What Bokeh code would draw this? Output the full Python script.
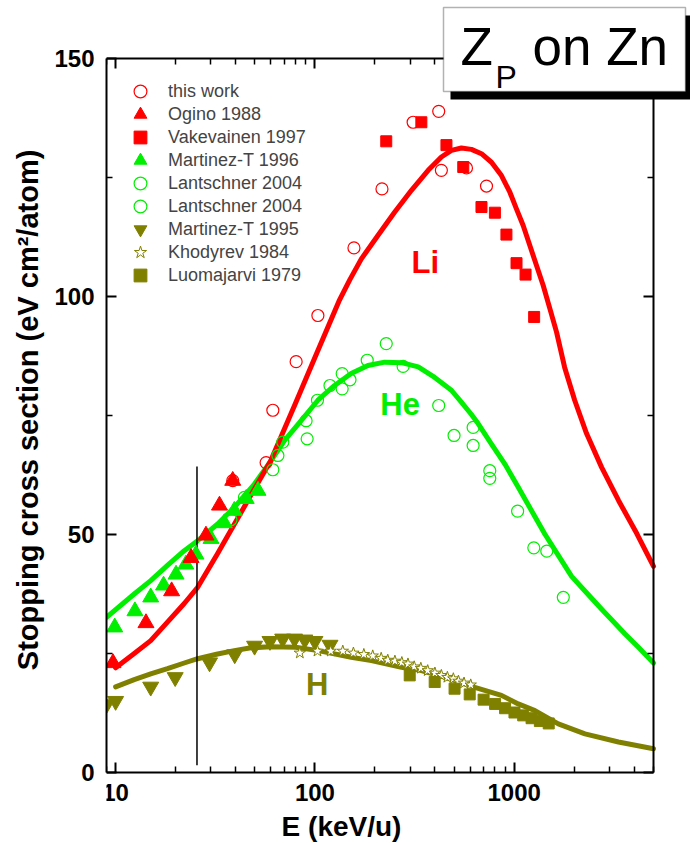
from bokeh.plotting import figure
from bokeh.models import (FixedTicker, LinearAxis, LogAxis, Label, BoxAnnotation, Range1d,
                          Legend, LegendItem, CustomJSTickFormatter, BasicTickFormatter)
from bokeh.embed import file_html
from bokeh.resources import INLINE

FONT = "Liberation Sans"
RED = "#ff0000"
GREEN = "#00ee00"
OLIVE = "#808000"

# ---- model curves (E in keV/u, S in eV cm^2/atom) ----
li_curve_e = [10, 12.4, 15, 18.2, 22.1, 25.8, 32.5, 40, 46, 60, 80, 100, 132, 150, 171, 207,
              251, 305, 370, 431, 484, 543, 610, 685, 769, 863, 951, 1026, 1109, 1198, 1294,
              1398, 1511, 1631, 1791, 2011, 2307, 2746, 3342, 4121, 5000]
li_curve_s = [22.0, 25.0, 27.7, 31.6, 35.5, 38.9, 46.0, 52.6, 57.1, 65.5, 77.6, 87.2, 99.0,
              103.6, 107.9, 112.8, 117.7, 122.3, 126.5, 129.3, 130.7, 131.2, 130.9, 130.0,
              128.2, 125.4, 121.9, 118.4, 114.9, 110.7, 106.5, 102.3, 97.4, 92.5, 85.1, 78.2,
              71.2, 64.1, 57.1, 50.2, 43.3]

he_curve_e = [9, 12.4, 15, 18.2, 22.1, 25.8, 32.5, 39.4, 49.7, 60.3, 70.3, 85.3, 103.5, 125.5,
              152, 184.5, 224, 272, 330, 399, 484, 543, 610, 659, 769, 898, 1048, 1222, 1424,
              1664, 1941, 2300, 2748, 3600, 4200, 5000]
he_curve_s = [32.6, 37.5, 40.3, 43.5, 46.6, 48.7, 52.2, 55.7, 60.6, 65.5, 69.7, 73.9, 78.2,
              81.3, 83.8, 85.5, 86.2, 86.1, 85.2, 83.0, 80.3, 77.8, 75.2, 73.3, 69.0, 64.8,
              59.9, 55.0, 50.1, 45.6, 41.2, 37.8, 34.3, 29.1, 26.3, 23.0]

h_curve_e = [10, 12.4, 15, 18.2, 22.1, 25.8, 32.5, 39.4, 47.8, 60, 80, 104, 152, 192, 272,
             342, 450, 634, 863, 1048, 1271, 1664, 2265, 3335, 5000]
h_curve_s = [18.0, 19.5, 20.7, 21.8, 23.0, 23.9, 24.9, 25.6, 26.2, 26.4, 26.3, 25.6, 24.2,
             23.5, 22.1, 21.4, 20.0, 17.9, 16.2, 14.4, 13.0, 10.2, 8.1, 6.4, 5.0]

# ---- measurements ----
this_work_e = [38.7, 56.9, 61.5, 80.5, 103.5, 157, 217, 311, 418, 431, 576, 726]
this_work_s = [61.3, 65.1, 76.1, 86.3, 96.0, 110.2, 122.6, 136.6, 138.9, 126.5, 127.0, 123.2]

ogino_e = [9.7, 14.2, 19.1, 23.9, 28.4, 33.2, 38.7]
ogino_s = [23.0, 31.4, 38.1, 45.1, 49.8, 56.1, 61.3]

vakevainen_e = [228, 342, 457, 555, 685, 800, 914, 1027, 1140, 1259]
vakevainen_s = [132.6, 136.6, 131.8, 127.2, 118.8, 117.6, 113.0, 107.0, 104.6, 95.7]

martinez96_e = [9.9, 12.5, 15.0, 17.4, 20.1, 22.5, 25.3, 30.1, 35.1, 39.4, 45.2, 51.8]
martinez96_s = [30.5, 33.9, 36.8, 39.3, 41.6, 43.7, 45.8, 49.1, 52.4, 55.0, 57.5, 59.2]

lantschner_a_e = [37.9, 44.3, 61.5, 65.2, 69.0, 91.4, 90.3, 103, 119, 137, 137, 150]
lantschner_a_s = [53.1, 57.8, 63.6, 66.6, 69.4, 70.1, 73.9, 78.2, 81.3, 80.6, 83.8, 82.5]

lantschner_b_e = [183, 228, 277, 418, 499, 622, 622, 754, 754, 1040, 1254, 1457, 1763]
lantschner_b_s = [86.6, 90.1, 85.3, 77.1, 70.8, 72.5, 68.7, 63.4, 61.8, 54.9, 47.2, 46.5, 36.8]

martinez95_e = [9.0, 10.0, 15.0, 19.9, 29.6, 39.6, 49.8, 59.5, 68.9, 79, 89, 100, 119]
martinez95_s = [14.3, 15.0, 18.0, 20.0, 23.1, 24.8, 26.6, 27.6, 28.1, 28.1, 27.9, 27.6, 26.8]

khodyrev_e = [84, 103, 120, 138, 156, 176, 195, 215, 232, 252, 273, 293, 315, 340, 368, 400,
              431, 462, 495, 525, 560, 605]
khodyrev_s = [25.1, 25.5, 25.5, 25.5, 25.1, 24.8, 24.5, 24.0, 23.6, 23.4, 23.1, 22.8, 22.2,
              21.9, 21.4, 20.9, 20.4, 20.0, 19.7, 19.2, 18.8, 18.4]

luomajarvi_e = [299, 399, 502, 598, 702, 802, 900, 1003, 1109, 1222, 1345, 1490]
luomajarvi_s = [20.4, 19.0, 17.6, 16.4, 15.3, 14.4, 13.5, 12.6, 12.0, 11.4, 10.8, 10.3]

# threshold marker line
vline_e = [25.6, 25.6]
vline_s = [1.5, 64.3]

# ---- axes: data box spans E 9..5000, S 0..150 ----
E_MIN, E_MAX = 9, 5000
S_MIN, S_MAX = 0, 150
x_major = [10, 100, 1000]
x_minor = [9] + [m * 10 for m in range(2, 10)] + [m * 100 for m in range(2, 10)] + [2000, 3000, 4000, 5000]
y_major = [0, 50, 100, 150]
y_minor = [25, 75, 125]

# the plotting frame reaches the canvas edges on top/right/bottom so the
# caption box and the x title can sit outside the axes box
p = figure(width=690, height=843, x_axis_type="log",
           x_range=Range1d(E_MIN, 7665), y_range=Range1d(-14.92, 162.18),
           output_backend="svg", toolbar_location=None,
           min_border_left=106, min_border_right=0, min_border_top=0, min_border_bottom=0)
p.xgrid.visible = False
p.ygrid.visible = False
p.outline_line_color = None
p.background_fill_color = "white"
p.border_fill_color = "white"

xax = p.xaxis[0]
xax.ticker = FixedTicker(ticks=x_major, minor_ticks=x_minor)
xax.formatter = BasicTickFormatter()
xax.fixed_location = S_MIN
xax.bounds = (E_MIN, E_MAX)

yax = p.yaxis[0]
yax.ticker = FixedTicker(ticks=y_major, minor_ticks=y_minor)
yax.bounds = (S_MIN, S_MAX)

blank = CustomJSTickFormatter(code="return ''")
top_axis = LogAxis(ticker=FixedTicker(ticks=x_major, minor_ticks=x_minor), formatter=blank,
                   fixed_location=S_MAX, bounds=(E_MIN, E_MAX))
right_axis = LinearAxis(ticker=FixedTicker(ticks=y_major, minor_ticks=y_minor), formatter=blank,
                        fixed_location=E_MAX, bounds=(S_MIN, S_MAX))
p.add_layout(top_axis, "above")
p.add_layout(right_axis, "right")

for ax in [xax, yax, top_axis, right_axis]:
    ax.axis_line_width = 2
    ax.major_tick_in = 10
    ax.major_tick_out = 0
    ax.minor_tick_in = 6
    ax.minor_tick_out = 0
    ax.major_tick_line_width = 2
    ax.minor_tick_line_width = 1.5
    ax.major_label_text_font = FONT
    ax.major_label_text_font_style = "bold"
    ax.major_label_text_font_size = "24px"
    ax.major_label_text_color = "black"

xax.major_label_standoff = 12
yax.major_label_standoff = 12
# leading no-break spaces nudge the rotated title toward the top of the axes box
yax.axis_label = "\u00a0\u00a0\u00a0Stopping cross section (eV cm²/atom)"
yax.axis_label_text_font = FONT
yax.axis_label_text_font_style = "bold"
yax.axis_label_text_font_size = "29px"
yax.axis_label_text_color = "black"
yax.axis_label_standoff = 7

# ---- curves ----
curve_style = dict(line_width=5, line_join="round", line_cap="round")
p.line(h_curve_e, h_curve_s, line_color=OLIVE, **curve_style)
p.line(he_curve_e, he_curve_s, line_color=GREEN, **curve_style)
p.line(li_curve_e, li_curve_s, line_color=RED, **curve_style)
p.line(vline_e, vline_s, line_color="black", line_width=1.5)

# ---- data points ----
r_this = p.scatter(this_work_e, this_work_s, marker="circle", size=12, fill_color=None,
                   line_color=RED, line_width=1.2)
r_mart96 = p.scatter(martinez96_e, martinez96_s, marker="triangle", size=16,
                     fill_color=GREEN, line_color=GREEN)
r_ogino = p.scatter(ogino_e, ogino_s, marker="triangle", size=16, fill_color=RED, line_color=RED)
r_vake = p.scatter(vakevainen_e, vakevainen_s, marker="square", size=11,
                   fill_color=RED, line_color=RED)
r_lanA = p.scatter(lantschner_a_e, lantschner_a_s, marker="circle", size=12, fill_color=None,
                   line_color=GREEN, line_width=1.2)
r_lanB = p.scatter(lantschner_b_e, lantschner_b_s, marker="circle", size=12, fill_color=None,
                   line_color=GREEN, line_width=1.2)
r_mart95 = p.scatter(martinez95_e, martinez95_s, marker="inverted_triangle", size=16,
                     fill_color=OLIVE, line_color=OLIVE)
r_khod = p.scatter(khodyrev_e, khodyrev_s, marker="star", size=12, fill_color="white",
                   line_color=OLIVE, line_width=1)
r_luom = p.scatter(luomajarvi_e, luomajarvi_s, marker="square", size=11,
                   fill_color=OLIVE, line_color=OLIVE)

# legend: two interleaved columns of entries (odd rows / even rows)
legend_style = dict(glyph_width=32, glyph_height=32, spacing=14, padding=0, margin=0,
                    label_standoff=12, label_text_font=FONT, label_text_font_size="18px",
                    background_fill_alpha=0, border_line_alpha=0)
legend_odd = Legend(items=[
    LegendItem(label="this work", renderers=[r_this]),
    LegendItem(label="Vakevainen 1997", renderers=[r_vake]),
    LegendItem(label="Lantschner 2004", renderers=[r_lanA]),
    LegendItem(label="Martinez-T 1995", renderers=[r_mart95]),
    LegendItem(label="Luomajarvi 1979", renderers=[r_luom]),
], location=(18, 552), **legend_style)
legend_even = Legend(items=[
    LegendItem(label="Ogino 1988", renderers=[r_ogino]),
    LegendItem(label="Martinez-T 1996", renderers=[r_mart96]),
    LegendItem(label="Lantschner 2004", renderers=[r_lanB]),
    LegendItem(label="Khodyrev 1984", renderers=[r_khod]),
], location=(18, 575), **legend_style)
p.add_layout(legend_odd)
p.add_layout(legend_even)

# ---- curve names ----
for txt, e, s, col in [("Li", 305, 107.1, RED), ("He", 213, 77.3, GREEN), ("H", 90.3, 18.5, OLIVE)]:
    p.add_layout(Label(x=e, y=s, text=txt, text_color=col, text_font=FONT,
                       text_font_style="bold", text_font_size="31px",
                       text_baseline="alphabetic"))

# ---- x axis title ----
p.add_layout(Label(x=235, y=17, x_units="screen", y_units="screen", text="E (keV/u)",
                   text_align="center", text_baseline="alphabetic", text_font=FONT,
                   text_font_style="bold", text_font_size="28px", text_color="black"))

# ---- "Z_P on Zn" caption box with drop shadow ----
p.add_layout(BoxAnnotation(left=344, right=600, top=828, bottom=744, left_units="screen",
                           right_units="screen", top_units="screen", bottom_units="screen",
                           fill_color="black", fill_alpha=1, line_alpha=0, level="overlay"))
p.add_layout(BoxAnnotation(left=337, right=579, top=836, bottom=752, left_units="screen",
                           right_units="screen", top_units="screen", bottom_units="screen",
                           fill_color="white", fill_alpha=1, line_color="black",
                           line_width=1.5, level="overlay"))
for txt, x, y, size in [("Z", 354, 797, "53px"), ("P", 389, 767, "32px"), ("on Zn", 426, 797, "53px")]:
    p.add_layout(Label(x=x, y=y, x_units="screen", y_units="screen", text=txt,
                       text_font=FONT, text_font_size=size, text_color="black",
                       text_baseline="alphabetic", level="overlay"))

open("out.html", "w").write(file_html(p, INLINE))
